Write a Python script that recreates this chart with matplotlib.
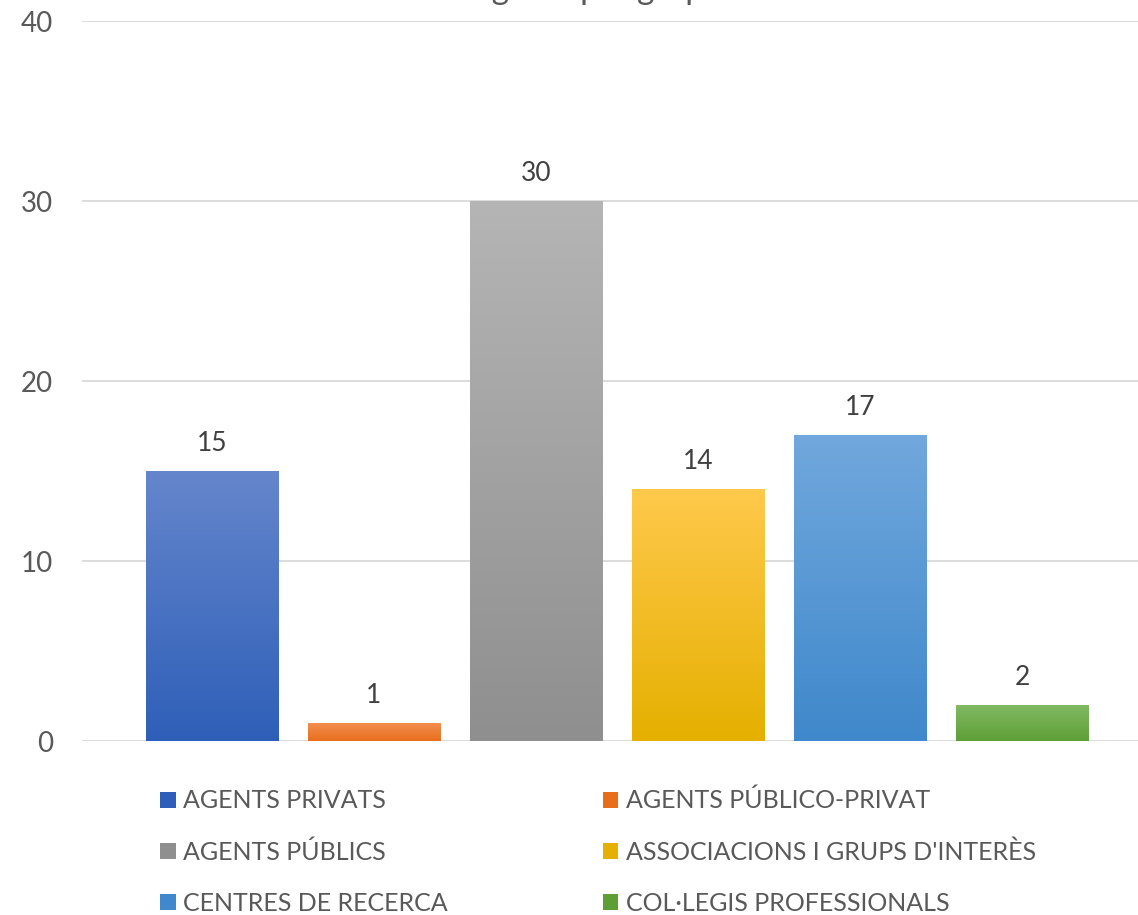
import matplotlib
matplotlib.use("Agg")
import matplotlib.pyplot as plt
from matplotlib.colors import LinearSegmentedColormap
import numpy as np

# data
categories = [
    "AGENTS PRIVATS",
    "AGENTS PÚBLICO-PRIVAT",
    "AGENTS PÚBLICS",
    "ASSOCIACIONS I GRUPS D'INTERÈS",
    "CENTRES DE RECERCA",
    "COL·LEGIS PROFESSIONALS",
]
values = [15, 1, 30, 14, 17, 2]
y_ticks = [0, 10, 20, 30, 40]
title = "Nombre d'agents per grup"

# gradient colours (top, bottom) for each series
top_colors = ["#6586cc", "#f28e50", "#b5b5b5", "#ffc94c", "#71a8dd", "#82ba64"]
bottom_colors = ["#2e5fb8", "#e86e1c", "#8f8f8f", "#e5b000", "#3f88cb", "#5e9f35"]

plt.rcParams["font.family"] = ["Lato", "DejaVu Sans"]

fig = plt.figure(figsize=(11.38, 9.15), dpi=100)
ax = fig.add_axes([82 / 1138, 1 - 741 / 915, (1138 - 82) / 1138, 720 / 915])

x = np.arange(len(values))
bars = ax.bar(x, values, width=0.815, color=bottom_colors, zorder=2)

# vertical gradient inside each bar
grad = np.linspace(1, 0, 256).reshape(-1, 1)
for bar, c_top, c_bot in zip(bars, top_colors, bottom_colors):
    cmap = LinearSegmentedColormap.from_list("g", [c_bot, c_top])
    x0, y0 = bar.get_x(), bar.get_y()
    w, h = bar.get_width(), bar.get_height()
    im = ax.imshow(grad, cmap=cmap, aspect="auto", extent=[x0, x0 + w, y0, y0 + h],
                   zorder=3, interpolation="bicubic")
    im.set_clip_path(bar)

for xi, v in zip(x, values):
    ax.annotate(str(v), (xi, v), xytext=(0, 11), textcoords="offset points",
                ha="center", va="bottom", fontsize=19, color="#404040")

ax.set_xlim(-0.802, 5.716)
ax.set_ylim(0, 40)
ax.set_yticks(y_ticks)
ax.set_xticks([])
ax.tick_params(axis="y", length=0, pad=21, labelsize=20, labelcolor="#595959")
ax.grid(axis="y", color="#d9d9d9", linewidth=1.3, zorder=0)
for s in ax.spines.values():
    s.set_visible(False)

# title sits above the top edge as in the reference (only descenders show)
fig.text(0.45, 1 + 1 / 915, title, ha="center", va="baseline", fontsize=24, color="#595959")

order = [0, 2, 4, 1, 3, 5]
leg = fig.legend([bars[i] for i in order], [categories[i] for i in order],
                 ncol=2, loc="upper left", bbox_to_anchor=(150 / 1138, 1 - 779 / 915),
                 frameon=False, fontsize=18, handlelength=0.62, handleheight=0.62,
                 handletextpad=0.3, labelspacing=1.12, columnspacing=6.2,
                 borderaxespad=0)
for t in leg.get_texts():
    t.set_color("#595959")
for h, i in zip(leg.legend_handles, order):
    h.set_facecolor(bottom_colors[i])

fig.savefig("out.png", dpi=100)
